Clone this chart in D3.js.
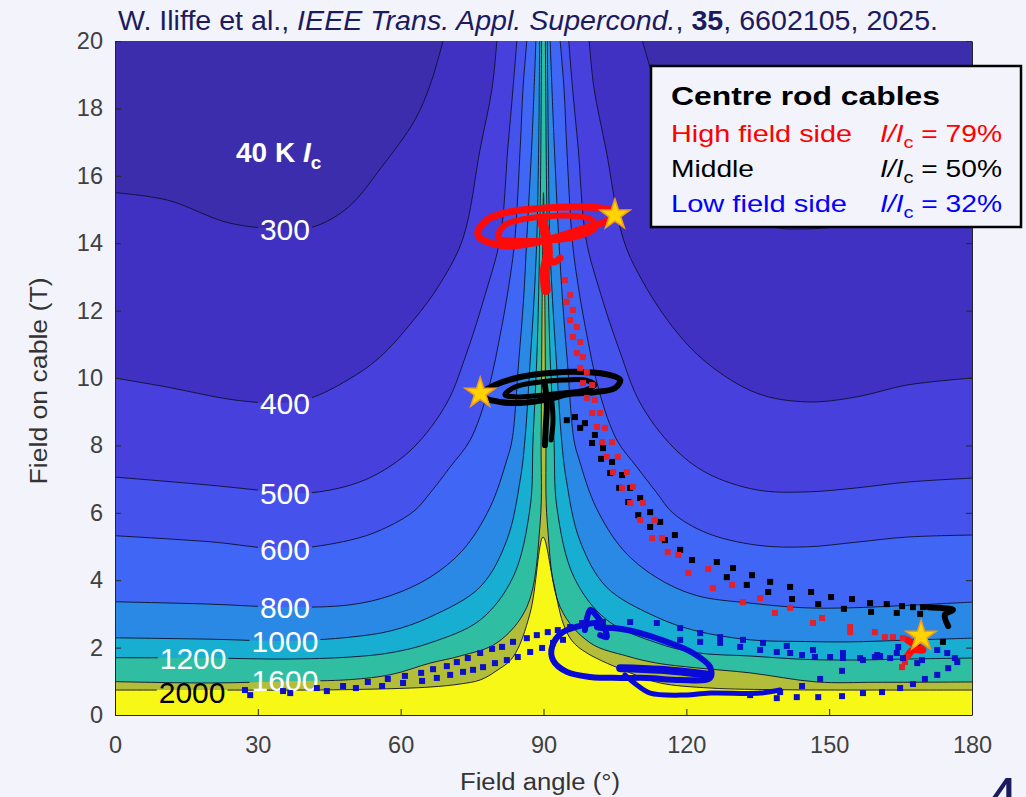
<!DOCTYPE html>
<html>
<head>
<meta charset="utf-8">
<style>
body { margin: 0; background: #f3f3fb; }
svg { display: block; font-family: "Liberation Sans", Arial, sans-serif; }
</style>
<script src="https://cdn.jsdelivr.net/npm/d3@7/dist/d3.min.js"></script>
</head>
<body>
<svg id="chart" width="1026" height="797"></svg>
<script>
// ---- axes ----
var xTicks = [0, 30, 60, 90, 120, 150, 180];
var yTicks = [0, 2, 4, 6, 8, 10, 12, 14, 16, 18, 20];

// ---- contour levels of 40 K Ic (A) and their lines, [angle, field] ----
var levels = [300, 400, 500, 600, 800, 1000, 1200, 1600, 2000];
var c300 = [[0,15.5],[11,15.28],[24,14.6],[36,14.42],[42,14.5],[49,15.07],[56,16.26],[63,17.66],[66.2,18.7],[68.9,20],
  [110.8,20],[113.6,18.7],[117,17.66],[124,16.26],[131,15.07],[138,14.5],[144,14.42],[156,14.6],[169,15.28],[180,15.5]];
var c400 = [[0,10.0],[11,9.73],[25,9.35],[35,9.26],[41,9.4],[49,9.95],[55.5,10.6],[62.6,11.7],[68.3,12.8],[73.1,14.15],[76.7,16.8],[79.2,18.6],[80.2,20],
  [99.6,20],[100.6,18.6],[103.1,16.8],[106.7,14.15],[110.3,13.0],[117.2,11.5],[124.3,10.45],[134.8,9.55],[145.3,9.29],[155.8,9.44],[166.3,9.79],[180,10.0]];
var c500 = [[0,7.06],[20,6.82],[36,6.6],[41,6.59],[49.4,6.82],[55.7,7.2],[62.8,7.95],[69.7,9.26],[74,10.8],[77.8,12.5],[80.9,14.15],[82.5,16.8],[83.6,18.6],[84.4,20],
  [95.3,20],[96.1,18.6],[97.3,16.8],[98.9,14.15],[102,12.5],[106,10.8],[110.3,9.26],[117.2,7.95],[124.3,7.18],[134.8,6.68],[145.3,6.62],[155.8,6.74],[166.3,6.91],[180,7.03]];
var c600 = [[0,5.32],[20,5.14],[36,4.93],[49.4,5.19],[56,5.5],[62.8,6.05],[66.2,6.59],[70.4,7.36],[74.6,8.16],[78.3,9.6],[81.2,11.5],[83,13],[84,14.15],[85.1,16.8],[85.7,18.6],[86.5,20],
  [93.5,20],[94.3,18.6],[94.9,16.8],[96,14.15],[97,13],[98.8,11.5],[101.7,9.6],[105.4,8.16],[109.6,7.36],[113.8,6.59],[117.2,5.99],[124.3,5.4],[134.8,5.04],[145.3,4.99],[155.8,5.13],[166.3,5.28],[180,5.34]];
var c800 = [[0,3.36],[20,3.29],[36,3.2],[49.4,3.27],[58,3.55],[66.2,4.09],[73.1,4.9],[78.8,6.17],[82.3,7.57],[83.4,8.16],[84.8,10.5],[85.8,12.3],[86.5,14.15],[87.6,17.1],[88.4,20],
  [91.4,20],[92.2,17.1],[93.2,14.15],[94,12.3],[95,10.5],[96.4,8.16],[97.5,7.57],[101,6.17],[106.7,4.9],[113.6,4.09],[122,3.55],[133.4,3.32],[145,3.18],[154.4,3.18],[166,3.25],[180,3.35]];
var c1000 = [[0,2.29],[20,2.25],[36,2.2],[49.4,2.31],[58,2.5],[66.2,2.91],[76.7,3.8],[82.3,5.19],[85.1,6.97],[86.1,8.16],[87.2,10.5],[88,12.3],[88.6,14.15],[89,17],[89.2,20],
  [90.8,20],[91,17],[91.3,14.15],[91.9,12.3],[92.7,10.5],[93.8,8.16],[94.8,6.97],[97.6,5.19],[103.2,3.8],[113.7,2.91],[122,2.5],[133.4,2.23],[145,2.18],[154.4,2.17],[166,2.22],[180,2.28]];
var c1200 = [[0,1.7],[20,1.69],[36,1.66],[49.4,1.72],[58,1.85],[66.2,2.14],[76.7,2.82],[83.6,4.09],[87.2,6.17],[87.8,8.16],[88.7,11],[89.3,15],[89.6,20],
  [90.4,20],[90.7,15],[91.3,11],[92.2,8.16],[92.8,6.17],[96.4,4.09],[103.3,2.82],[113.8,2.14],[122,1.85],[133.4,1.75],[145,1.65],[154.4,1.63],[166,1.66],[180,1.69]];
var c1600 = [[0,0.99],[20,0.95],[36,1.0],[49.4,1.05],[58,1.2],[66.2,1.54],[72.5,1.75],[80.2,2.14],[86.5,3.2],[89.3,5.7],[89.5,8.16],[89.7,12],[90,15.5],
  [90.3,12],[90.5,8.16],[90.8,5.7],[93.5,3.2],[99.8,2.14],[107.5,1.75],[113.8,1.54],[122,1.4],[133.4,1.25],[147.4,0.98],[160,0.97],[180,0.98]];
var c2000 = [[0,0.74],[20,0.74],[40,0.74],[55,0.77],[66.2,0.83],[72.5,0.92],[76.7,1.04],[80,1.3],[83.6,1.72],[87.2,3.03],[89.9,5.28],
  [92,4.0],[94.1,2.73],[96,2.2],[99.1,1.84],[108.2,1.25],[114.5,0.95],[125,0.8],[140,0.75],[160,0.74],[180,0.74]];
var contourLines = [c300, c400, c500, c600, c800, c1000, c1200, c1600, c2000];
// where each level's label sits, [angle, field]
var labelSpots = [[35.7,14.42],[35.7,9.26],[35.7,6.59],[35.7,4.93],[35.7,3.2],[35.7,2.2],[16.4,1.69],[35.7,1.04],[16.2,0.68]];

// ---- cable trajectories, [angle, field] ----
var redLoopOuter = [[76.2,14.33],[78.1,14.69],[81.9,14.9],[87.2,15.01],[93.5,15.07],[99.8,15.07],[104.0,14.99],[105.0,14.84],[102.9,14.63],[98.7,14.45],[93.5,14.21],[88.2,14.01],[83.0,13.92],[78.8,14.01],[76.5,14.18]];
var redLoopInner = [[80.4,14.21],[81.9,14.54],[86.1,14.72],[91.4,14.81],[96.6,14.81],[100.2,14.69],[100.8,14.45],[98.7,14.27],[94.5,14.12],[89.3,14.07],[84.0,14.07],[80.9,14.12]];
var redStem = [[89.8,14.6],[90.7,14.09],[90.9,13.65],[90.3,13.2],[90.5,12.61]];
var redBranch = [[90.9,13.65],[92.0,13.44],[93.5,13.56]];
var redTail = [[166.4,2.23],[168.0,2.08],[169.7,1.93],[167.6,1.93],[166.6,1.78]];
var redDots = [[94.5,12.91],[95.6,12.46],[94.9,12.26],[96.2,12.02],[95.6,11.72],[97.0,11.51],[96.2,11.22],[97.7,11.07],[97.0,10.74],[98.3,10.62],
  [97.7,10.3],[99.1,10.18],[98.3,9.85],[100.2,9.79],[99.1,9.41],[100.8,9.35],[100.2,8.96],[101.9,8.96],[101.2,8.55],[102.9,8.52],
  [102.3,8.1],[104.4,8.1],[103.3,7.66],[105.6,7.66],[104.6,7.21],[107.5,7.21],[106.5,6.74],[108.8,6.77],[108.2,6.29],[110.9,6.29],
  [110.3,5.79],[113.4,5.79],[112.8,5.25],[114.9,5.25],[116.1,4.84],[118.3,4.75],[120.4,4.21],[124.6,4.33],[125.6,3.77],[129.6,3.86],
  [131.9,3.35],[135.5,3.47],[138.6,3.03],[141.8,3.18],[146.6,2.73],[148.5,2.88],[154.4,2.61],[154.4,2.46],[159.6,2.46],[161.7,2.31],
  [163.4,2.31],[165.5,2.28],[165.3,1.42],[165.9,1.57],[166.4,1.72]];

var blackLoopOuter = [[77.1,9.55],[79.8,9.79],[85.1,10.03],[91.4,10.15],[97.7,10.18],[102.9,10.12],[106.1,9.94],[105.0,9.7],[100.8,9.58],[95.6,9.53],[90.3,9.35],[85.1,9.26],[80.9,9.29],[77.7,9.41]];
var blackLoopInner = [[81.9,9.5],[84.0,9.73],[89.3,9.88],[94.5,9.94],[98.7,9.94],[100.8,9.79],[98.7,9.64],[93.5,9.55],[88.2,9.47],[84.0,9.44]];
var blackStemA = [[90.3,9.79],[90.7,9.2],[90.5,8.61],[90.3,8.01]];
var blackStemB = [[91.6,9.5],[92.0,8.75],[91.6,8.16]];
var blackTail = [[170.8,3.2],[173.3,3.18],[176.0,3.12],[174.3,2.97],[175.0,2.64]];
var blackDots = [[94.9,8.75],[96.6,8.84],[97.7,8.52],[98.7,8.66],[100.8,8.31],[100.2,8.07],[102.5,7.92],[102.1,7.6],[104.4,7.51],[104.0,7.18],
  [106.5,7.12],[105.9,6.74],[108.2,6.74],[107.8,6.32],[110.3,6.44],[109.9,5.93],[112.4,6.02],[112.4,5.58],[114.5,5.73],[115.5,5.19],
  [117.6,5.34],[118.7,4.9],[121.2,4.6],[126.4,4.54],[129.8,4.36],[128.5,4.09],[133.8,4.15],[132.7,3.86],[137.6,3.95],[137.2,3.65],
  [141.8,3.8],[142.2,3.44],[146.2,3.65],[147.7,3.29],[150.4,3.5],[154.8,3.44],[153.1,3.15],[158.6,3.32],[158.8,3.06],[162.1,3.29],
  [164.2,3.03],[165.3,3.23],[167.6,3.2],[169.1,3.0],[169.7,3.2],[173.9,2.17]];

var blueLoop = [[101.9,2.73],[94.1,2.46],[91.8,2.02],[92.0,1.63],[94.9,1.28],[99.8,1.13],[106.1,1.1],[111.7,1.1],[118.7,1.04],[125.0,1.1],[125.0,1.42],[121.4,1.84],[115.9,2.17],[109.6,2.46],[104.6,2.58],[101.2,2.61]];
var blueCusp = [[98.7,2.52],[99.8,3.12],[101.0,2.97],[102.5,2.67],[103.3,2.31],[101.9,2.37]];
var blueBand = [[106.1,1.39],[114.5,1.34],[125.0,1.19]];
var blueLower = [[107.1,1.19],[109.6,0.89],[112.4,0.65],[118.7,0.59],[125.0,0.65],[135.5,0.65],[139.7,0.74]];
var blueDots = [[27.3,0.74],[35.3,0.71],[42.4,0.8],[47.9,0.86],[53.1,0.98],[57.3,1.07],[60.9,1.16],[64.3,1.25],[66.8,1.36],[69.7,1.45],
  [71.8,1.57],[74.1,1.69],[76.7,1.84],[79.2,1.96],[81.3,2.02],[83.6,2.17],[86.5,2.28],[88.6,2.37],[90.9,2.46],[93.0,2.52],[95.6,2.61],[98.1,2.73],
  [28.4,0.59],[36.8,0.65],[44.5,0.71],[50.6,0.8],[56.1,0.86],[60.5,0.95],[64.5,1.01],[67.6,1.1],[70.4,1.19],[73.1,1.28],[75.2,1.34],
  [77.3,1.42],[79.8,1.54],[82.3,1.63],[84.6,1.72],[87.2,1.87],[89.7,1.99],[92.0,2.14],[94.1,2.23],
  [102.5,2.76],[108.2,2.76],[113.8,2.73],[118.7,2.58],[122.9,2.43],[127.1,2.31],[131.9,2.23],[136.1,2.14],[141.1,2.05],[146.6,1.93],
  [152.9,1.84],[160.1,1.78],[164.5,2.02],[168.5,2.14],[172.7,1.93],[174.8,1.84],[176.4,1.69],[176.9,1.57],
  [118.7,2.23],[122.9,2.17],[127.1,2.14],[131.3,2.02],[135.5,1.93],[139.0,1.87],[141.8,1.84],[144.3,1.78],[147.0,1.72],[150.2,1.72],
  [152.9,1.69],[156.5,1.69],[159.6,1.72],[162.8,1.69],[165.5,1.69],[168.5,1.54],[169.5,1.63],
  [133.4,0.59],[139.7,0.68],[144.3,0.86],[148.1,1.07],[152.7,1.31],[157.1,1.63],[160.7,1.75],[164.2,1.84],
  [175.0,1.39],[172.7,1.19],[170.1,1.07],[167.6,0.92],[164.9,0.8],[161.1,0.68],[157.1,0.65],[152.7,0.56],[147.7,0.53],[143.2,0.53],[139.0,0.5]];

var stars = [[105.0,14.84],[76.7,9.55],[169.3,2.34]];

// ---- legend ----
var legendNames = ["High field side", "Middle", "Low field side"];
var legendRatios = ["79%", "50%", "32%"];

// ---- styling ----
var bandColors = ["#3c2dac","#4131c3","#4740dd","#4552ec","#4066f6","#2a89e4","#17aed2","#2fbea2","#b2bd39","#f8f817"];
var seriesColors = ["#ff0a0a", "#000000", "#0a0ad8"];
var legendColors = ["#ff0000", "#000000", "#0000ff"];
var ink = "#1b1b5e";

var W = 1026, H = 797;
var svg = d3.select("#chart");
var x = d3.scaleLinear().domain([0, 180]).range([115, 972]);
var y = d3.scaleLinear().domain([0, 20]).range([715, 41]);

svg.append("rect").attr("width", W).attr("height", H).attr("fill", "#f3f3fb");

var defs = svg.append("defs");
defs.append("clipPath").attr("id", "plotclip")
  .append("rect").attr("x", x(0)).attr("y", y(20)).attr("width", x(180) - x(0)).attr("height", y(0) - y(20));

var plot = svg.append("g").attr("clip-path", "url(#plotclip)");

var lineGen = d3.line().x(function(d) { return x(d[0]); }).y(function(d) { return y(d[1]); })
  .curve(d3.curveCatmullRom.alpha(0.5));

// split a contour where it runs along the top edge
function splitTop(pts) {
  var runs = [[pts[0]]];
  for (var i = 1; i < pts.length; i++) {
    if (pts[i - 1][1] >= 20 && pts[i][1] >= 20) runs.push([pts[i]]);
    else runs[runs.length - 1].push(pts[i]);
  }
  return runs;
}

// filled bands, lowest level first
plot.append("rect").attr("x", x(0)).attr("y", y(20)).attr("width", x(180) - x(0)).attr("height", y(0) - y(20))
  .attr("fill", bandColors[0]);
contourLines.forEach(function(pts, i) {
  var d = splitTop(pts).map(function(r, j) {
    var p = lineGen(r);
    return j ? p.replace(/^M/, "L") : p;
  }).join("");
  d += "L" + x(180) + "," + y(0) + "L" + x(0) + "," + y(0) + "Z";
  plot.append("path").attr("d", d).attr("fill", bandColors[i + 1]);
});

// labels (drawn later) cut their own line
var lineGroup = plot.append("g");
var labelGroup = plot.append("g");
levels.forEach(function(lv, i) {
  var t = labelGroup.append("text")
    .attr("x", x(labelSpots[i][0])).attr("y", y(labelSpots[i][1]))
    .attr("text-anchor", "middle").attr("dy", "0.36em")
    .attr("font-size", 30)
    .attr("fill", lv === 2000 ? "#000" : "#fff")
    .text(lv);
  var w = t.node().getComputedTextLength();
  var m = defs.append("mask").attr("id", "m" + lv).attr("maskUnits", "userSpaceOnUse")
    .attr("x", 0).attr("y", 0).attr("width", W).attr("height", H);
  m.append("rect").attr("width", W).attr("height", H).attr("fill", "white");
  m.append("rect").attr("x", x(labelSpots[i][0]) - w / 2 - 2).attr("y", y(labelSpots[i][1]) - 11)
    .attr("width", w + 4).attr("height", 22).attr("fill", "black");
  var g = lineGroup.append("g").attr("mask", "url(#m" + lv + ")");
  splitTop(contourLines[i]).forEach(function(r) {
    g.append("path").attr("d", lineGen(r)).attr("fill", "none")
      .attr("stroke", "#10102e").attr("stroke-width", 0.9);
  });
});

// "40 K Ic"
var tag = plot.append("text").attr("x", 236).attr("y", 162).attr("fill", "#fff")
  .attr("font-size", 28).attr("font-weight", "bold");
tag.append("tspan").text("40 K ");
tag.append("tspan").attr("font-style", "italic").text("I");
tag.append("tspan").attr("font-size", 19).attr("dy", 7).text("c");

// trajectories
var loopGen = d3.line().x(function(d) { return x(d[0]); }).y(function(d) { return y(d[1]); })
  .curve(d3.curveCatmullRomClosed.alpha(0.5));
var trail = plot.append("g").attr("fill", "none").attr("stroke-linecap", "round").attr("stroke-linejoin", "round");

function dots(data, color) {
  plot.append("g").selectAll("rect").data(data).join("rect")
    .attr("x", function(d) { return x(d[0]) - 3; })
    .attr("y", function(d) { return y(d[1]) - 3; })
    .attr("width", 6).attr("height", 6)
    .attr("fill", color);
}

dots(blackDots, "#000");
dots(redDots, "#e3202c");
dots(blueDots, "#0c10c8");

trail.append("path").attr("d", loopGen(blueLoop)).attr("stroke", seriesColors[2]).attr("stroke-width", 6);
trail.append("path").attr("d", lineGen(blueCusp)).attr("stroke", seriesColors[2]).attr("stroke-width", 6);
trail.append("path").attr("d", lineGen(blueBand)).attr("stroke", seriesColors[2]).attr("stroke-width", 8);
trail.append("path").attr("d", lineGen(blueLower)).attr("stroke", seriesColors[2]).attr("stroke-width", 5);

trail.append("path").attr("d", loopGen(blackLoopOuter)).attr("stroke", seriesColors[1]).attr("stroke-width", 6);
trail.append("path").attr("d", loopGen(blackLoopInner)).attr("stroke", seriesColors[1]).attr("stroke-width", 5);
trail.append("path").attr("d", lineGen(blackStemA)).attr("stroke", seriesColors[1]).attr("stroke-width", 6);
trail.append("path").attr("d", lineGen(blackStemB)).attr("stroke", seriesColors[1]).attr("stroke-width", 5);
trail.append("path").attr("d", lineGen(blackTail)).attr("stroke", seriesColors[1]).attr("stroke-width", 6);

trail.append("path").attr("d", loopGen(redLoopOuter)).attr("stroke", seriesColors[0]).attr("stroke-width", 7);
trail.append("path").attr("d", loopGen(redLoopInner)).attr("stroke", seriesColors[0]).attr("stroke-width", 6);
trail.append("path").attr("d", lineGen(redStem)).attr("stroke", seriesColors[0]).attr("stroke-width", 10);
trail.append("path").attr("d", lineGen(redBranch)).attr("stroke", seriesColors[0]).attr("stroke-width", 7);
trail.append("path").attr("d", lineGen(redTail)).attr("stroke", seriesColors[0]).attr("stroke-width", 7);

// start stars
svg.append("g").selectAll("path").data(stars).join("path")
  .attr("transform", function(d) { return "translate(" + x(d[0]) + "," + y(d[1]) + ")"; })
  .attr("d", d3.symbol(d3.symbolStar, 290))
  .attr("fill", "#ffd400").attr("stroke", "#f09a20").attr("stroke-width", 1.5);

// axes
function styleAxis(g) {
  g.attr("font-size", 23.5).attr("font-family", "\"Liberation Sans\", Arial, sans-serif");
  g.selectAll("path, line").attr("stroke", "#262626");
  g.selectAll("text").attr("fill", "#404040");
}
svg.append("g").attr("transform", "translate(0," + y(0) + ")")
  .call(d3.axisBottom(x).tickValues(xTicks).tickSize(-6).tickSizeOuter(0).tickPadding(21))
  .call(styleAxis);
svg.append("g").attr("transform", "translate(" + x(0) + ",0)")
  .call(d3.axisLeft(y).tickValues(yTicks).tickSize(-6).tickSizeOuter(0).tickPadding(12))
  .call(styleAxis);
svg.append("g").attr("transform", "translate(" + x(180) + ",0)")
  .call(d3.axisRight(y).tickValues(yTicks).tickSize(-6).tickSizeOuter(0).tickFormat(""))
  .call(styleAxis);

svg.append("text").attr("x", 540).attr("y", 790).attr("text-anchor", "middle")
  .attr("font-size", 23.5).attr("fill", "#333").attr("textLength", 160).attr("lengthAdjust", "spacingAndGlyphs")
  .text("Field angle (°)");
svg.append("text").attr("transform", "translate(47,381) rotate(-90)").attr("text-anchor", "middle")
  .attr("font-size", 23.5).attr("fill", "#333").attr("textLength", 207).attr("lengthAdjust", "spacingAndGlyphs")
  .text("Field on cable (T)");

// citation
var cite = svg.append("text").attr("x", 118).attr("y", 30).attr("font-size", 27).attr("fill", ink)
  .attr("textLength", 820).attr("lengthAdjust", "spacingAndGlyphs");
cite.append("tspan").text("W. Iliffe et al., ");
cite.append("tspan").attr("font-style", "italic").text("IEEE Trans. Appl. Supercond.");
cite.append("tspan").text(", ");
cite.append("tspan").attr("font-weight", "bold").text("35");
cite.append("tspan").text(", 6602105, 2025.");

// legend box
var lg = svg.append("g");
lg.append("rect").attr("x", 651).attr("y", 66).attr("width", 370).attr("height", 161)
  .attr("fill", "#f3f3fb").attr("stroke", "#000").attr("stroke-width", 2.5);
lg.append("text").attr("x", 671).attr("y", 105).attr("font-size", 25.5).attr("font-weight", "bold")
  .attr("textLength", 269).attr("lengthAdjust", "spacingAndGlyphs").text("Centre rod cables");
var nameLens = [181, 83, 176];
legendNames.forEach(function(n, i) {
  var by = 142 + i * 35;
  lg.append("text").attr("x", 671).attr("y", by).attr("font-size", 24).attr("fill", legendColors[i])
    .attr("textLength", nameLens[i]).attr("lengthAdjust", "spacingAndGlyphs").text(n);
  var t = lg.append("text").attr("x", 880).attr("y", by).attr("font-size", 24)
    .attr("fill", legendColors[i])
    .attr("textLength", 122).attr("lengthAdjust", "spacingAndGlyphs");
  t.append("tspan").attr("font-style", "italic").text("I/I");
  t.append("tspan").attr("font-size", 17).attr("dy", 6).text("c");
  t.append("tspan").attr("dy", -6).text(" = " + legendRatios[i]);
});

// slide number peeking in at the corner
svg.append("text").attr("x", 1002).attr("y", 820).attr("text-anchor", "middle")
  .attr("font-size", 62).attr("fill", ink).text("4");
</script>
</body>
</html>
